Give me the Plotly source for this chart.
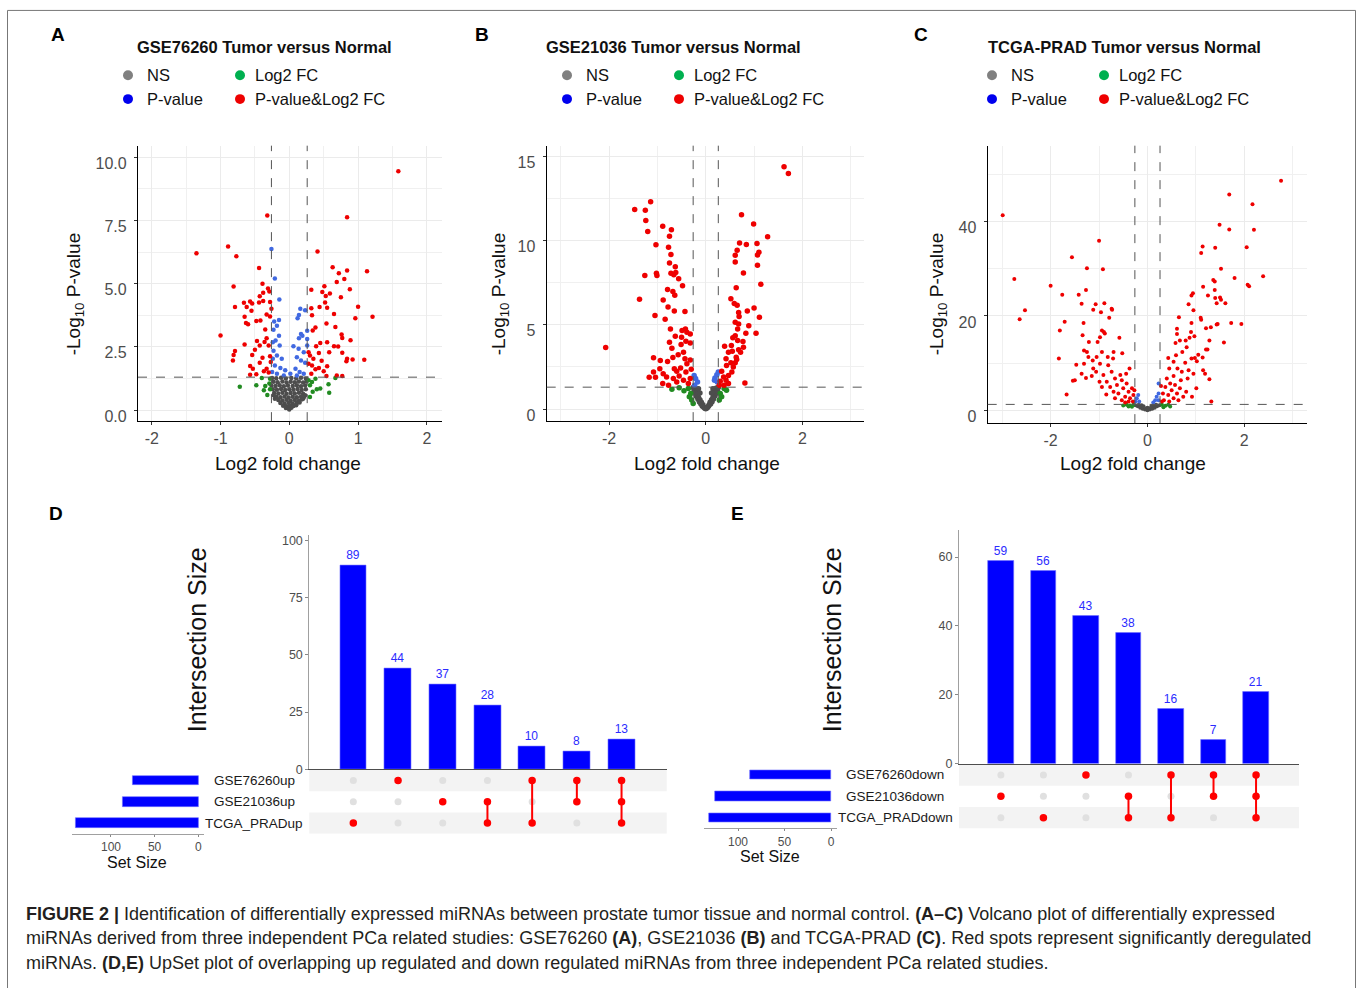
import plotly.graph_objects as go

W, H = 1358, 988
FONT = "Liberation Sans, Arial, sans-serif"


def px(x):
    return x / W


def py(y):
    return 1 - y / H


# ---------------- Volcano data (log2FC, -log10 P) ----------------
A_NS = [(-0.25, 1.27), (-0.19, 1.26), (-0.12, 1.28), (-0.05, 1.25), (0.03, 1.27), (0.1, 1.26), (0.17, 1.28), (0.24, 1.25),
        (-0.23, 1.12), (-0.17, 1.1), (-0.1, 1.13), (-0.04, 1.09), (0.02, 1.12), (0.08, 1.1), (0.14, 1.13), (0.2, 1.09), (0.25, 1.13),
        (-0.26, 0.97), (-0.2, 0.95), (-0.14, 0.98), (-0.08, 0.94), (-0.02, 0.97), (0.05, 0.95), (0.11, 0.98), (0.17, 0.94), (0.23, 0.97),
        (-0.24, 0.82), (-0.18, 0.8), (-0.12, 0.83), (-0.06, 0.79), (0.0, 0.82), (0.06, 0.8), (0.12, 0.83), (0.18, 0.79), (0.24, 0.82),
        (-0.22, 0.67), (-0.16, 0.65), (-0.1, 0.68), (-0.04, 0.64), (0.02, 0.67), (0.08, 0.65), (0.14, 0.68), (0.2, 0.64),
        (-0.23, 0.58), (0.23, 0.58), (-0.21, 0.45), (0.2, 0.45),
        (-0.19, 0.53), (-0.13, 0.51), (-0.07, 0.54), (-0.01, 0.5), (0.05, 0.53), (0.11, 0.51), (0.17, 0.54), (0.21, 0.5),
        (-0.16, 0.4), (-0.1, 0.38), (-0.04, 0.41), (0.02, 0.37), (0.08, 0.4), (0.14, 0.38), (0.18, 0.42),
        (-0.13, 0.28), (-0.07, 0.26), (-0.01, 0.29), (0.05, 0.25), (0.11, 0.28), (0.15, 0.3),
        (-0.09, 0.17), (-0.04, 0.15), (0.01, 0.18), (0.06, 0.16), (0.1, 0.19),
        (-0.05, 0.08), (-0.01, 0.06), (0.03, 0.09), (0.0, 0.02)]
A_FC = [(-0.72, 0.92), (-0.48, 0.98), (-0.40, 1.27), (-0.35, 0.95), (-0.29, 1.05), (-0.37, 0.78), (-0.32, 0.59),
        (-0.28, 0.82), (-0.28, 1.24), (0.30, 0.98), (0.33, 1.11), (0.38, 1.24), (0.40, 0.82), (0.45, 0.85),
        (0.57, 1.02), (0.58, 0.68), (0.67, 1.27), (0.34, 0.72), (0.30, 0.52), (0.28, 1.18)]
A_PV = [(-0.26, 6.37), (-0.21, 5.20), (-0.145, 4.37), (0.16, 4.01), (0.23, 3.95), (0.14, 3.76), (0.12, 3.63),
        (-0.15, 3.56), (-0.22, 3.50), (-0.18, 3.33), (-0.23, 3.18), (0.26, 3.14), (0.17, 3.01), (0.14, 2.84),
        (0.19, 2.94), (-0.15, 2.94), (-0.20, 2.75), (-0.14, 2.55), (0.06, 2.52), (0.135, 2.42), (0.21, 2.29),
        (-0.23, 2.35), (-0.18, 2.16), (-0.11, 2.03), (0.11, 2.09), (0.17, 1.96), (0.23, 1.87), (-0.21, 1.76),
        (-0.13, 1.66), (-0.06, 1.57), (0.09, 1.63), (0.15, 1.50), (0.21, 1.44), (-0.18, 1.44), (-0.25, 1.50),
        (0.015, 1.44), (-0.08, 1.37), (0.11, 1.37), (-0.24, 2.03), (0.26, 2.55), (0.26, 2.81), (-0.24, 2.68)]
A_BOTH = [(1.585, 9.45), (-0.32, 7.70), (0.84, 7.63), (-1.35, 6.20), (-0.89, 6.47), (-0.77, 6.08), (0.41, 6.27),
          (-0.44, 5.62), (0.63, 5.65), (0.84, 5.52), (1.13, 5.49), (0.72, 5.41), (-0.81, 4.89), (-0.39, 5.0),
          (0.80, 5.18), (0.69, 5.07), (0.51, 4.90), (0.88, 4.78), (0.32, 4.76), (-0.31, 4.81), (-0.29, 4.69),
          (-0.38, 4.64), (0.48, 4.67), (0.59, 4.61), (0.53, 4.51), (0.75, 4.46), (-0.43, 4.50), (-0.38, 4.31),
          (-0.66, 4.24), (-0.57, 4.29), (-0.54, 4.22), (-0.62, 4.08), (-0.79, 4.08), (-0.44, 4.25), (-0.28, 4.27),
          (0.52, 4.25), (1.0, 4.09), (0.44, 4.08), (0.32, 4.03), (0.55, 4.05), (-0.55, 3.93), (-0.26, 4.01),
          (1.21, 3.69), (0.96, 3.63), (0.33, 3.75), (0.65, 3.80), (-0.33, 3.78), (-0.65, 3.69), (-0.28, 3.70),
          (-0.48, 3.52), (-0.60, 3.39), (-0.63, 3.44), (-0.42, 3.54), (-1.0, 2.95), (0.54, 3.42), (0.67, 3.29),
          (0.38, 3.27), (0.34, 3.15), (0.76, 2.99), (0.77, 2.85), (0.89, 2.76), (-0.35, 3.19), (-0.33, 2.84),
          (-0.47, 2.73), (-0.36, 2.69), (-0.65, 2.59), (-0.79, 2.34), (-0.81, 2.18), (-0.82, 1.96), (-0.50, 2.39),
          (-0.54, 2.18), (-0.43, 2.55), (-0.30, 2.55), (0.39, 2.52), (0.45, 2.65), (0.55, 2.68), (0.65, 2.52),
          (0.71, 2.51), (0.77, 2.27), (0.84, 2.03), (0.92, 2.0), (1.09, 1.99), (0.83, 1.93), (0.58, 2.29),
          (0.43, 2.26), (0.30, 2.16), (0.35, 2.03), (0.47, 1.95), (0.55, 1.73), (0.33, 1.76), (0.43, 1.66),
          (0.50, 1.53), (0.54, 1.35), (0.69, 1.37), (0.77, 1.35), (0.32, 1.44), (0.38, 1.61), (-0.39, 2.07),
          (-0.33, 1.63), (-0.43, 1.87), (-0.57, 1.74), (-0.53, 1.63), (-0.37, 1.53), (-0.48, 1.42), (-0.30, 1.48),
          (-0.27, 1.90), (-0.57, 1.40), (-0.28, 2.13), (0.28, 2.29), (0.28, 1.83)]

B_NS = [(-0.26, 1.28), (-0.22, 1.25), (-0.24, 1.1), (-0.2, 1.05), (-0.22, 0.92), (-0.18, 0.88), (-0.19, 0.75),
        (-0.15, 0.7), (-0.16, 0.58), (-0.12, 0.55), (-0.13, 0.42), (-0.09, 0.4), (-0.1, 0.3), (-0.06, 0.25),
        (-0.07, 0.17), (-0.04, 0.1), (-0.02, 0.04), (0.0, 0.01), (0.02, 0.05), (0.04, 0.1), (0.06, 0.18),
        (0.07, 0.26), (0.1, 0.3), (0.09, 0.4), (0.13, 0.44), (0.12, 0.55), (0.16, 0.6), (0.15, 0.7), (0.19, 0.77),
        (0.18, 0.88), (0.22, 0.94), (0.2, 1.05), (0.24, 1.12), (0.22, 1.25), (0.26, 1.28), (-0.15, 1.2),
        (0.15, 1.2), (-0.12, 0.95), (0.12, 0.95)]
B_FC = [(-0.70, 1.18), (-0.55, 1.26), (-0.45, 1.08), (-0.36, 1.22), (-0.31, 0.92), (-0.29, 0.53), (-0.26, 0.33),
        (0.30, 0.92), (0.33, 0.73), (0.38, 1.22), (0.28, 0.53), (0.43, 1.12), (-0.34, 0.73)]
B_PV = [(-0.24, 2.0), (-0.21, 1.81), (-0.17, 1.61), (-0.23, 1.41), (0.19, 1.85), (0.23, 2.04), (0.26, 2.2),
        (0.18, 1.71), (0.24, 1.61)]
B_BOTH = [(1.62, 14.40), (1.71, 13.99), (-1.14, 12.32), (-1.47, 11.85), (-1.25, 11.81), (-1.24, 11.20),
          (-1.20, 10.55), (-0.89, 10.86), (-0.71, 10.65), (-0.75, 10.27), (-1.03, 9.76), (-0.77, 9.61),
          (-0.72, 9.19), (-0.75, 8.68), (-0.63, 8.45), (-1.02, 8.07), (-1.01, 7.94), (-1.26, 7.94), (-0.72, 8.07),
          (-0.66, 7.98), (-0.56, 7.74), (-0.62, 8.11), (-0.48, 7.33), (-0.79, 7.11), (-0.68, 6.99), (-0.64, 6.76),
          (-1.37, 6.52), (-0.88, 6.48), (-0.78, 6.07), (-0.65, 5.82), (-0.43, 5.80), (-1.05, 5.56), (-0.84, 5.34),
          (-0.73, 4.75), (-2.07, 3.65), (-0.49, 4.66), (-0.42, 4.75), (-0.39, 4.56), (-0.63, 4.32), (-0.50, 4.26),
          (-0.32, 4.46), (-0.75, 3.97), (-0.70, 3.61), (-0.51, 3.83), (-0.41, 4.03), (-0.32, 3.93), (-0.46, 3.38),
          (-0.57, 3.22), (-0.68, 3.06), (-1.08, 3.05), (-0.94, 2.89), (-0.79, 2.83), (-0.43, 2.99), (-0.32, 2.91),
          (-0.39, 2.69), (-0.52, 2.44), (-0.65, 2.40), (-0.95, 2.40), (-1.08, 2.20), (-1.17, 1.89), (-1.04, 1.89),
          (-0.88, 2.10), (-0.81, 1.91), (-0.67, 1.81), (-0.55, 1.96), (-0.41, 2.20), (-0.30, 2.36), (-0.46, 1.71),
          (-0.32, 1.81), (-0.89, 1.51), (-0.77, 1.41), (-0.60, 1.61), (-0.36, 1.51), (-0.60, 2.24),
          (0.74, 11.55), (0.99, 11.0), (1.28, 10.24), (0.70, 9.86), (0.84, 9.78), (1.06, 9.84), (0.65, 9.43),
          (1.10, 9.31), (1.07, 9.16), (0.61, 9.14), (0.61, 8.74), (1.07, 8.55), (0.78, 8.09), (1.14, 7.41),
          (0.63, 7.21), (0.52, 6.56), (0.59, 6.27), (0.65, 6.17), (1.00, 6.01), (0.86, 5.82), (0.68, 5.74),
          (0.69, 5.50), (1.11, 5.46), (0.61, 5.15), (0.68, 5.05), (0.89, 4.95), (0.66, 4.75), (0.83, 4.50),
          (1.04, 4.50), (0.61, 4.36), (0.56, 4.24), (0.77, 4.01), (0.66, 4.07), (0.39, 3.73), (0.53, 3.77),
          (0.78, 3.67), (0.68, 3.52), (0.72, 3.38), (0.47, 3.38), (0.55, 3.44), (0.63, 3.08), (0.64, 2.95),
          (0.42, 2.99), (0.52, 2.75), (0.43, 2.59), (0.57, 2.50), (0.54, 2.20), (0.33, 2.24), (0.47, 2.00),
          (0.37, 1.91), (0.42, 1.71), (0.30, 1.65), (0.81, 1.55), (0.38, 1.41), (0.28, 1.41), (0.47, 1.51),
          (0.61, 2.75)]

C_NS = [(-0.25, 1.1), (-0.2, 0.9), (-0.15, 0.6), (-0.1, 0.4), (-0.05, 0.2), (0.0, 0.05), (0.05, 0.2),
        (0.1, 0.4), (0.15, 0.6), (0.2, 0.9), (0.25, 1.1), (-0.18, 1.2), (-0.08, 0.9), (0.0, 0.6), (0.08, 0.9),
        (0.18, 1.2), (-0.12, 1.1), (0.12, 1.1), (-0.03, 0.4), (0.03, 0.4)]
C_FC = [(-0.43, 1.2), (-0.36, 1.05), (-0.29, 1.2), (-0.32, 0.8), (-0.39, 0.85), (0.30, 1.2), (0.37, 1.0),
        (0.43, 1.2), (0.47, 0.85), (0.33, 0.7), (-0.50, 1.05)]
C_PV = [(0.23, 5.7), (0.23, 3.6), (0.19, 2.9), (0.16, 2.2), (0.23, 2.2), (-0.19, 3.3), (-0.22, 2.6),
        (-0.17, 1.9), (-0.25, 1.9), (0.12, 1.7)]
C_BOTH = [(-2.99, 41.3), (-2.75, 27.8), (-2.64, 19.3), (-2.53, 21.2), (-2.0, 26.4), (-1.83, 11.0), (-1.81, 16.9),
          (-1.76, 24.5), (-1.71, 18.8), (-1.67, 3.4), (-1.56, 32.4), (-1.54, 6.3), (-1.50, 6.4), (-1.47, 9.7),
          (-1.42, 24.5), (-1.36, 22.6), (-1.34, 15.9), (-1.32, 18.5), (-1.31, 12.7), (-1.27, 25.5), (-1.25, 30.1),
          (-1.21, 14.5), (-1.25, 12.4), (-1.22, 11.3), (-1.31, 9.9), (-1.36, 7.8), (-1.27, 6.9), (-1.12, 21.3),
          (-1.07, 22.5), (-1.03, 14.5), (-1.0, 35.9), (-0.96, 20.8), (-0.94, 16.9), (-0.92, 29.9), (-0.89, 22.7),
          (-0.74, 21.5), (-0.73, 21.3), (-0.79, 19.6), (-0.90, 16.6), (-0.88, 16.3), (-0.98, 15.5), (-0.94, 12.4),
          (-1.05, 11.3), (-1.13, 10.6), (-0.98, 9.9), (-1.06, 8.2), (-1.15, 7.3), (-0.91, 7.5), (-0.82, 11.3),
          (-0.81, 9.6), (-0.70, 12.4), (-0.71, 11.0), (-0.58, 15.4), (-0.52, 12.1), (-0.44, 7.8), (-0.37, 8.9),
          (-0.74, 8.2), (-0.67, 6.8), (-0.56, 7.5), (-0.84, 6.1), (-0.77, 5.0), (-0.70, 4.0), (-0.63, 5.4),
          (-0.53, 6.4), (-0.60, 3.6), (-0.50, 4.7), (-0.43, 5.7), (-0.39, 4.0), (-0.46, 2.9), (-0.36, 2.6),
          (-0.32, 4.7), (-0.29, 3.3), (-0.53, 2.2), (-0.67, 2.6), (-0.85, 3.4), (-0.94, 5.0), (-0.99, 6.1),
          (-1.12, 8.9), (-0.39, 1.9), (-0.30, 1.9), (-0.46, 1.7), (-0.27, 4.3),
          (2.76, 48.6), (1.69, 45.7), (2.17, 43.6), (1.49, 39.3), (1.69, 38.3), (2.20, 38.2), (2.05, 34.5),
          (1.14, 34.7), (1.40, 34.4), (1.11, 33.3), (1.52, 30.0), (2.39, 28.4), (1.80, 28.0), (1.36, 27.6),
          (1.39, 27.3), (2.07, 26.6), (2.10, 26.3), (1.15, 26.2), (1.39, 25.5), (0.94, 24.8), (0.91, 24.3),
          (1.25, 24.3), (1.50, 23.9), (1.40, 23.8), (1.52, 23.4), (1.43, 22.7), (1.61, 22.7), (0.85, 22.5),
          (0.95, 21.2), (1.10, 19.6), (1.11, 19.2), (0.65, 19.7), (0.91, 18.5), (1.45, 18.3), (1.43, 18.2),
          (1.73, 18.5), (1.94, 18.3), (1.21, 17.4), (1.31, 17.6), (0.61, 17.3), (0.90, 16.6), (0.61, 16.2),
          (0.97, 15.7), (0.87, 15.4), (0.79, 14.8), (0.67, 14.8), (1.28, 14.8), (1.58, 14.4), (0.58, 14.3),
          (0.81, 13.4), (1.21, 12.9), (1.24, 12.9), (0.72, 12.4), (0.59, 11.7), (1.05, 11.8), (0.98, 11.1),
          (0.91, 11.0), (1.14, 11.2), (0.54, 10.3), (0.78, 10.1), (1.02, 10.4), (0.43, 11.1), (1.15, 8.5),
          (1.19, 7.8), (1.28, 6.6), (1.32, 1.9), (0.45, 8.9), (0.62, 8.9), (0.71, 8.2), (0.85, 8.5), (0.95, 7.8),
          (1.01, 4.7), (0.83, 6.8), (0.69, 6.4), (0.54, 7.3), (0.40, 6.8), (0.47, 5.7), (0.57, 5.4), (0.67, 4.7),
          (0.80, 4.0), (0.92, 2.9), (0.74, 2.9), (0.61, 3.6), (0.50, 4.3), (0.37, 5.0), (0.32, 3.6), (0.43, 3.3),
          (0.54, 2.6), (0.64, 2.2), (0.34, 2.2), (0.45, 1.9), (0.30, 1.9), (0.28, 5.2)]

FC_CUT = 0.26
P_CUT = 1.3

# ---------------- UpSet data ----------------
D_SETS = ["GSE76260up", "GSE21036up", "TCGA_PRADup"]
D_SET_SIZES = [75, 86, 140]
D_INTERSECT = [89, 44, 37, 28, 10, 8, 13]
D_COMBOS = [[2], [0], [1], [1, 2], [0, 2], [0, 1], [0, 1, 2]]

E_SETS = ["GSE76260down", "GSE21036down", "TCGA_PRADdown"]
E_SET_SIZES = [87, 125, 131]
E_INTERSECT = [59, 56, 43, 38, 16, 7, 21]
E_COMBOS = [[1], [2], [0], [1, 2], [0, 2], [0, 1], [0, 1, 2]]

fig = go.Figure()
shapes = []
annotations = []

COL_NS, COL_FC, COL_PV, COL_BOTH = "#4d4d4d", "#228b22", "#4169e1", "#ee0000"


def ann(x, y, text, size, color="#000000", xanchor="center", bold=False, angle=0, **kw):
    d = dict(x=px(x), y=py(y), xref="paper", yref="paper", text=(f"<b>{text}</b>" if bold else text),
             showarrow=False, xanchor=xanchor, yanchor="middle", textangle=angle,
             font=dict(family=FONT, size=size, color=color))
    d.update(kw)
    annotations.append(d)


def volcano(k, groups, msize):
    xa = "x" if k == 1 else f"x{k}"
    ya = "y" if k == 1 else f"y{k}"
    for pts, col in zip(groups, [COL_NS, COL_FC, COL_PV, COL_BOTH]):
        fig.add_trace(go.Scatter(x=[p[0] for p in pts], y=[p[1] for p in pts], mode="markers",
                                 marker=dict(color=col, size=msize, line=dict(width=0)),
                                 xaxis=xa, yaxis=ya, showlegend=False, hoverinfo="skip"))
    for xv in (-FC_CUT, FC_CUT):
        shapes.append(dict(type="line", xref=xa, yref=f"{ya} domain", x0=xv, x1=xv, y0=0, y1=1,
                           line=dict(color="#555555", width=1, dash="dash")))
    shapes.append(dict(type="line", xref=f"{xa} domain", yref=ya, x0=0, x1=1, y0=P_CUT, y1=P_CUT,
                       line=dict(color="#555555", width=1, dash="dash")))


volcano(1, [A_NS, A_FC, A_PV, A_BOTH], 4.5)
volcano(2, [B_NS, B_FC, B_PV, B_BOTH], 5.5)
volcano(3, [C_NS, C_FC, C_PV, C_BOTH], 4)


def vaxis(dom_px, rng, tv, minor_tv, anchor, fmt=None, is_y=False):
    d = dict(domain=dom_px, range=rng, tickvals=tv,
             ticktext=[(fmt.format(v) if fmt else str(v)) for v in tv],
             showgrid=True, gridcolor="#ebebeb", gridwidth=1.4,
             minor=dict(tickvals=minor_tv, showgrid=True, gridcolor="#f0f0f0", gridwidth=0.8, ticks=""),
             zeroline=False, showline=True, linecolor="#000000", linewidth=1.3,
             ticks="outside", ticklen=3, tickcolor="#333333",
             tickfont=dict(family=FONT, size=16, color="#4d4d4d"), anchor=anchor)
    if is_y:
        d["ticklabelshift"] = 6
        d["ticklabelstandoff"] = 4
    return d


layout_axes = {}
vol_specs = [
    (1, [138, 442], [145, 423], [-2.2, 2.22], [-0.44, 10.46], [-2, -1, 0, 1, 2], [-1.5, -0.5, 0.5, 1.5],
     [0, 2.5, 5, 7.5, 10], [1.25, 3.75, 6.25, 8.75], "{:.1f}"),
    (2, [546.7, 864.3], [145, 423], [-3.29, 3.28], [-0.72, 15.65], [-2, 0, 2], [-3, -1, 1, 3],
     [0, 5, 10, 15], [2.5, 7.5, 12.5], None),
    (3, [987.7, 1306.7], [145, 425], [-3.30, 3.29], [-2.66, 56], [-2, 0, 2], [-3, -1, 1, 3],
     [0, 20, 40], [10, 30, 50], None),
]
for k, xd, yd, xr, yr, xt, xm, yt, ym, yfmt in vol_specs:
    xn = "xaxis" if k == 1 else f"xaxis{k}"
    yn = "yaxis" if k == 1 else f"yaxis{k}"
    layout_axes[xn] = vaxis([px(xd[0]), px(xd[1])], xr, xt, xm, "y" if k == 1 else f"y{k}")
    layout_axes[yn] = vaxis([py(yd[1]), py(yd[0])], yr, yt, ym, "x" if k == 1 else f"x{k}", yfmt, is_y=True)

# volcano titles, legends, axis titles
legend_items = [("NS", "#808080", 0, 17, 74), ("Log2 FC", "#00b050", 112, 13, 74),
                ("P-value", "#0000ee", 0, 17, 98), ("P-value&Log2 FC", "#ee0000", 112, 13, 98)]
panels = [("A", 58, "GSE76260 Tumor versus Normal", 264, 128, 288, 75),
          ("B", 482, "GSE21036 Tumor versus Normal", 673, 567, 707, 500),
          ("C", 921, "TCGA-PRAD Tumor versus Normal", 1124, 992, 1133, 938)]
for letter, lx, title, tx, legx, xtx, ytx in panels:
    ann(lx, 33, letter, 19, bold=True)
    ann(tx, 45, title, 16.5, color="#111111", bold=True)
    for name, col, dx, tdx, yy in legend_items:
        cx = legx + dx
        shapes.append(dict(type="circle", xref="paper", yref="paper", x0=px(cx - 5), x1=px(cx + 5),
                           y0=py(yy + 5), y1=py(yy - 5), fillcolor=col, line=dict(width=0)))
        ann(cx + tdx, yy, name, 16.5, color="#111111", xanchor="left")
    ann(xtx, 466, "Log2 fold change", 19, color="#111111")
    ann(ytx, 295, "-Log<sub>10</sub> P-value", 19, color="#111111", angle=-90)


# ---------------- UpSet plots ----------------
def upset(kb, km, ks, sets, set_sizes, inter, combos, bars_x, bars_y, mat_y, ss_x, yr_bar, ytv,
          ss_range, label_x, setsize_xy, isize_xy):
    n = len(inter)
    idx = list(range(n))
    xr = [-0.985, n + 0.01]
    fig.add_trace(go.Bar(x=idx, y=inter, width=0.6, marker=dict(color="#0000ff", line=dict(color="#7070ff", width=0.6)),
                         text=[str(v) for v in inter], textposition="outside", cliponaxis=False,
                         textfont=dict(family=FONT, size=12, color="#2b2bff"),
                         xaxis=f"x{kb}", yaxis=f"y{kb}", showlegend=False, hoverinfo="skip"))
    layout_axes[f"xaxis{kb}"] = dict(domain=[px(bars_x[0]), px(bars_x[1])], range=xr, anchor=f"y{kb}",
                                     showline=True, linecolor="#4d4d4d", linewidth=1.3, showticklabels=False,
                                     ticks="", showgrid=False, zeroline=False)
    layout_axes[f"yaxis{kb}"] = dict(domain=[py(bars_y[1]), py(bars_y[0])], range=yr_bar, anchor=f"x{kb}",
                                     tickvals=ytv, showline=True, linecolor="#a0a0a0", linewidth=1,
                                     ticks="outside", ticklen=3, tickcolor="#888888", showgrid=False,
                                     zeroline=False, tickfont=dict(family=FONT, size=12.5, color="#4d4d4d"))
    # matrix
    gx, gy, rx, ry, lx, ly = [], [], [], [], [], []
    for i, combo in enumerate(combos):
        for s in range(len(sets)):
            if s in combo:
                rx.append(i)
                ry.append(s)
            else:
                gx.append(i)
                gy.append(s)
        if len(combo) > 1:
            lx += [i, i, None]
            ly += [min(combo), max(combo), None]
    for r in (0, 2):
        shapes.append(dict(type="rect", xref=f"x{km} domain", yref=f"y{km}", x0=0, x1=1, y0=r - 0.5, y1=r + 0.5,
                           fillcolor="#f3f3f3", line=dict(width=0), layer="below"))
    fig.add_trace(go.Scatter(x=gx, y=gy, mode="markers", marker=dict(color="#e0e0e0", size=7),
                             xaxis=f"x{km}", yaxis=f"y{km}", showlegend=False, hoverinfo="skip"))
    fig.add_trace(go.Scatter(x=lx, y=ly, mode="lines", line=dict(color="#ff0000", width=2),
                             xaxis=f"x{km}", yaxis=f"y{km}", showlegend=False, hoverinfo="skip"))
    fig.add_trace(go.Scatter(x=rx, y=ry, mode="markers", marker=dict(color="#ff0000", size=7.5),
                             xaxis=f"x{km}", yaxis=f"y{km}", showlegend=False, hoverinfo="skip"))
    layout_axes[f"xaxis{km}"] = dict(domain=[px(bars_x[0]), px(bars_x[1])], range=xr, anchor=f"y{km}",
                                     visible=False)
    layout_axes[f"yaxis{km}"] = dict(domain=[py(mat_y[1]), py(mat_y[0])], range=[2.5, -0.5], anchor=f"x{km}",
                                     visible=False)
    # set sizes
    fig.add_trace(go.Bar(x=set_sizes, y=list(range(len(sets))), orientation="h", width=0.44,
                         marker=dict(color="#0000ff", line=dict(color="#7070ff", width=0.6)),
                         xaxis=f"x{ks}", yaxis=f"y{ks}", showlegend=False, hoverinfo="skip"))
    layout_axes[f"xaxis{ks}"] = dict(domain=[px(ss_x[0]), px(ss_x[1])], range=ss_range, anchor=f"y{ks}",
                                     tickvals=[100, 50, 0], showline=True, linecolor="#a0a0a0", linewidth=1,
                                     ticks="outside", ticklen=2, tickcolor="#888888", showgrid=False,
                                     zeroline=False, tickfont=dict(family=FONT, size=12, color="#4d4d4d"))
    layout_axes[f"yaxis{ks}"] = dict(domain=[py(mat_y[1]), py(mat_y[0])], range=[2.5, -0.5], anchor=f"x{ks}",
                                     visible=False)
    for s, name in enumerate(sets):
        annotations.append(dict(x=px(label_x), y=s, xref="paper", yref=f"y{km}", text=name, showarrow=False,
                                xanchor="center", yanchor="middle",
                                font=dict(family=FONT, size=13.5, color="#1a1a1a")))
    ann(setsize_xy[0], setsize_xy[1], "Set Size", 16, color="#111111")
    ann(isize_xy[0], isize_xy[1], "Intersection Size", 25, color="#111111", angle=-90)


upset(4, 5, 6, D_SETS, D_SET_SIZES, D_INTERSECT, D_COMBOS, [309.3, 666.7], [538.3, 774.3], [775, 839.3],
      [71.7, 204], [0, 102.2], [0, 25, 50, 75, 100], [145, -6.6], 254, (137, 868), (197, 644))
upset(7, 8, 9, E_SETS, E_SET_SIZES, E_INTERSECT, E_COMBOS, [959, 1299], [532.7, 768.7], [769.3, 834],
      [704, 836.7], [0, 67.9], [0, 20, 40, 60], [136.6, -6.1], 895, (770, 862), (832, 644))

ann(56, 516, "D", 19, bold=True)
ann(738, 516, "E", 19, bold=True)

# caption
cap = ["<b>FIGURE 2 |</b> Identification of differentially expressed miRNAs between prostate tumor tissue and normal control. "
       "<b>(A–C)</b> Volcano plot of differentially expressed",
       "miRNAs derived from three independent PCa related studies: GSE76260 <b>(A)</b>, GSE21036 <b>(B)</b> and "
       "TCGA-PRAD <b>(C)</b>. Red spots represent significantly deregulated",
       "miRNAs. <b>(D,E)</b> UpSet plot of overlapping up regulated and down regulated miRNAs from three "
       "independent PCa related studies."]
for i, line in enumerate(cap):
    ann(24, 920 + 25 * i, line, 18, color="#231f20", xanchor="left")

# frame
shapes.append(dict(type="rect", xref="paper", yref="paper", x0=px(7.5), x1=px(1355.5), y0=py(1000), y1=py(8.5),
                   line=dict(color="#777777", width=1), fillcolor="rgba(0,0,0,0)", layer="below"))

fig.update_layout(width=W, height=H, margin=dict(l=0, r=0, t=0, b=0), paper_bgcolor="white",
                  plot_bgcolor="white", showlegend=False, shapes=shapes, annotations=annotations,
                  font=dict(family=FONT), bargap=0, **layout_axes)

fig.write_html("out.html")
